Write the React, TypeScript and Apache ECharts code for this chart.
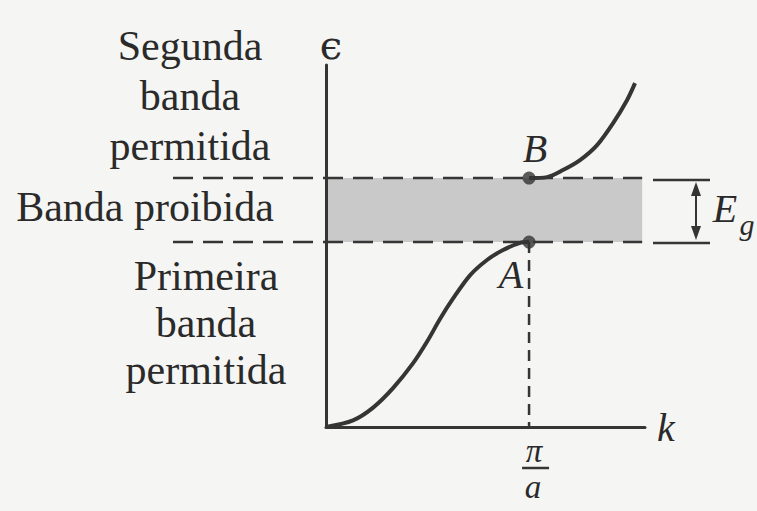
import React, { useEffect, useRef } from 'react';
import * as echarts from 'echarts';

// Wave number k in units of π/a, energy ϵ in units of the top of the first band (point A)
const lowerBandK = [0, 0.133, 0.232, 0.33, 0.429, 0.498, 0.562, 0.626, 0.709, 0.793, 0.872, 0.956, 1];
const lowerBandE = [0, 0.036, 0.105, 0.21, 0.345, 0.462, 0.585, 0.695, 0.82, 0.903, 0.957, 0.995, 1];
const upperBandK = [1, 1.089, 1.167, 1.251, 1.335, 1.414, 1.483, 1.522];
const upperBandE = [1.346, 1.351, 1.389, 1.443, 1.524, 1.643, 1.768, 1.859];

const zoneEdgeK = 1; // k = π/a
const gapBottomE = 1; // point A
const gapTopE = 1.346; // point B
const gapShadeEndK = 1.557;
const kMax = 1.571;
const eMax = 1.957;

const upperBandLabels = ['Segunda', 'banda', 'permitida'];
const gapLabel = 'Banda proibida';
const lowerBandLabels = ['Primeira', 'banda', 'permitida'];
const pointLabels = ['A', 'B'];

const INK = '#353535';
const TEXT = '#2a2a2a';
const SERIF = 'Liberation Serif';

export default function App() {
  const ref = useRef<HTMLDivElement>(null);

  useEffect(() => {
    if (!ref.current) return;
    const chart = echarts.init(ref.current, null, { renderer: 'svg' });

    const axisCommon = {
      type: 'value' as const,
      z: 10,
      axisLine: { show: true, lineStyle: { color: INK, width: 3 } },
      axisTick: { show: false },
      axisLabel: { show: false },
      splitLine: { show: false },
    };

    chart.setOption({
      backgroundColor: '#f5f5f3',
      animation: false,
      textStyle: { fontFamily: SERIF },
      grid: { left: 326, top: 65, width: 319, height: 362 },
      xAxis: {
        ...axisCommon,
        min: 0,
        max: kMax,
        name: 'k',
        nameLocation: 'end',
        nameGap: 12,
        nameTextStyle: { fontFamily: SERIF, fontStyle: 'italic', fontSize: 40, color: TEXT },
      },
      yAxis: {
        ...axisCommon,
        min: 0,
        max: eMax,
        name: 'ϵ',
        nameLocation: 'end',
        nameGap: 0,
        nameTextStyle: { fontFamily: 'DejaVu Serif', fontSize: 40, color: TEXT, padding: [0, 0, 0, 10] },
      },
      series: [
        {
          type: 'line',
          data: lowerBandK.map((k, i) => [k, lowerBandE[i]]),
          smooth: 0.3,
          symbol: 'none',
          lineStyle: { color: INK, width: 4 },
          markArea: {
            silent: true,
            itemStyle: { color: '#c9c9c9' },
            data: [[{ coord: [0, gapBottomE] }, { coord: [gapShadeEndK, gapTopE] }]],
          },
        },
        {
          type: 'line',
          data: upperBandK.map((k, i) => [k, upperBandE[i]]),
          smooth: 0.3,
          symbol: 'none',
          lineStyle: { color: INK, width: 4 },
        },
        {
          type: 'scatter',
          data: [
            [zoneEdgeK, gapBottomE],
            [zoneEdgeK, gapTopE],
          ],
          symbolSize: 13,
          itemStyle: { color: INK },
          z: 5,
        },
      ],
    });

    const px = (k: number, e: number) => chart.convertToPixel({ gridIndex: 0 }, [k, e]) as number[];
    const [xEdge, yA] = px(zoneEdgeK, gapBottomE);
    const [, yB] = px(zoneEdgeK, gapTopE);
    const [xShadeEnd, yAxisK] = px(gapShadeEndK, 0);
    const [xRight] = px(kMax, 0);

    const dash = { stroke: INK, lineWidth: 2.5, lineDash: [20, 10] };
    const label = (text: string, x: number, y: number, size = 42, italic = false) => ({
      type: 'text',
      x,
      y,
      style: {
        text,
        fill: TEXT,
        fontFamily: SERIF,
        fontSize: size,
        fontStyle: italic ? 'italic' : 'normal',
        align: 'center',
        verticalAlign: 'middle',
      },
    });

    const tickStart = xRight + 8;
    const tickEnd = xRight + 65;
    const arrowX = xRight + 51;

    chart.setOption({
      graphic: [
        // level lines of the gap edges, running from the labels across the shaded band
        { type: 'line', z: 1, shape: { x1: 173, y1: yB, x2: xShadeEnd, y2: yB }, style: dash },
        { type: 'line', z: 1, shape: { x1: 173, y1: yA, x2: xShadeEnd, y2: yA }, style: dash },
        // vertical guide at k = π/a
        {
          type: 'line',
          z: 1,
          shape: { x1: xEdge, y1: yA, x2: xEdge, y2: yAxisK },
          style: { stroke: INK, lineWidth: 2.5, lineDash: [11, 7] },
        },
        // gap width marker
        { type: 'line', shape: { x1: tickStart, y1: yB + 2, x2: tickEnd, y2: yB + 2 }, style: { stroke: INK, lineWidth: 2.5 } },
        { type: 'line', shape: { x1: tickStart, y1: yA + 1, x2: tickEnd, y2: yA + 1 }, style: { stroke: INK, lineWidth: 2.5 } },
        { type: 'line', shape: { x1: arrowX, y1: yB + 8, x2: arrowX, y2: yA - 6 }, style: { stroke: INK, lineWidth: 2 } },
        {
          type: 'polygon',
          shape: { points: [[arrowX, yB + 4], [arrowX - 5, yB + 18], [arrowX + 5, yB + 18]] },
          style: { fill: INK },
        },
        {
          type: 'polygon',
          shape: { points: [[arrowX, yA - 2], [arrowX - 5, yA - 16], [arrowX + 5, yA - 16]] },
          style: { fill: INK },
        },
        label('E', arrowX + 29, (yA + yB) / 2 - 2, 40, true),
        label('g', arrowX + 51, (yA + yB) / 2 + 14, 30, true),
        // point names
        label(pointLabels[0], xEdge - 18, yA + 32, 40, true),
        label(pointLabels[1], xEdge + 6, yB - 30, 40, true),
        // k = π/a under the axis
        label('π', xEdge + 5, yAxisK + 24, 33, true),
        {
          type: 'line',
          shape: { x1: xEdge - 7, y1: yAxisK + 41, x2: xEdge + 20, y2: yAxisK + 41 },
          style: { stroke: INK, lineWidth: 2.5 },
        },
        label('a', xEdge + 4, yAxisK + 60, 33, true),
        // band names on the left
        ...upperBandLabels.map((t, i) => label(t, 190, 46 + i * 50)),
        label(gapLabel, 145, 207),
        ...lowerBandLabels.map((t, i) => label(t, 206, 276 + i * 47)),
      ],
    });

    return () => chart.dispose();
  }, []);

  return (
    <div
      ref={ref}
      style={{ position: 'fixed', left: 0, top: 0, width: 757, height: 511 }}
    />
  );
}
